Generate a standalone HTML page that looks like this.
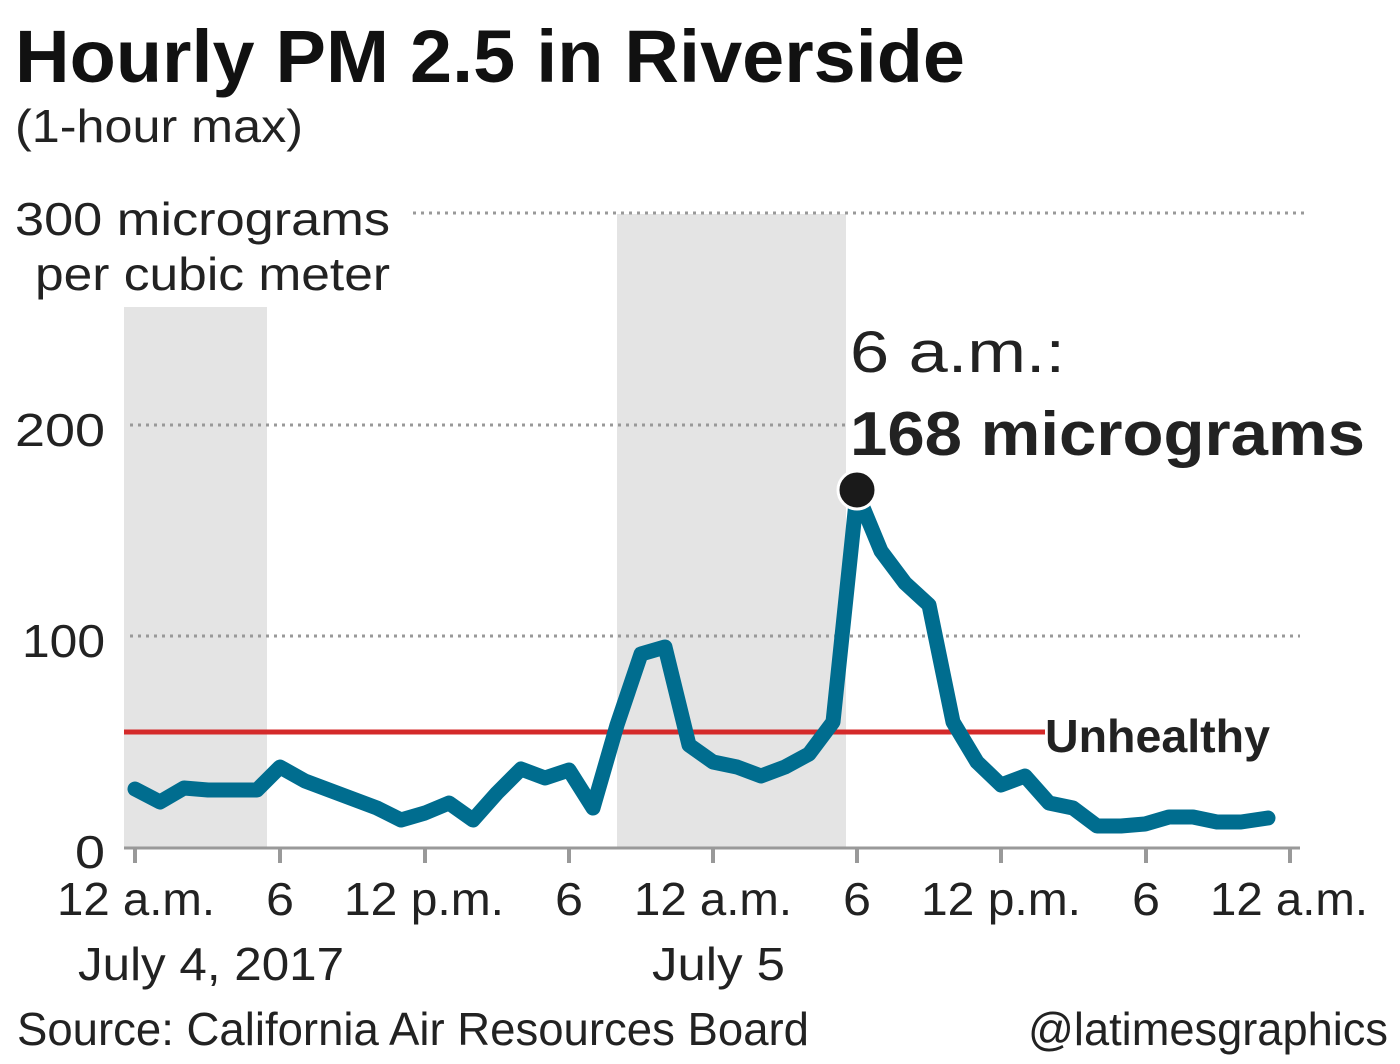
<!DOCTYPE html>
<html><head><meta charset="utf-8"><style>
html,body{margin:0;padding:0;background:#fff;}
svg{display:block;font-family:"Liberation Sans",sans-serif;}
</style></head><body>
<svg width="1400" height="1064" viewBox="0 0 1400 1064" xmlns="http://www.w3.org/2000/svg">
<rect width="1400" height="1064" fill="#fff"/>
<text x="15" y="82" font-size="74" font-weight="bold" fill="#111" textLength="950" lengthAdjust="spacingAndGlyphs">Hourly PM 2.5 in Riverside</text>
<text x="15" y="142" font-size="46" fill="#222" textLength="288" lengthAdjust="spacingAndGlyphs">(1-hour max)</text>
<rect x="124" y="307" width="143" height="541" fill="#e4e4e4"/>
<rect x="617" y="214" width="229" height="634" fill="#e4e4e4"/>
<g stroke="#999" stroke-width="3" stroke-dasharray="3,5">
<line x1="413" y1="213" x2="1305" y2="213"/>
<line x1="130" y1="425" x2="845" y2="425"/>
<line x1="130" y1="636" x2="1300" y2="636"/>
</g>
<g font-size="46" fill="#222">
<text x="15" y="235" textLength="375" lengthAdjust="spacingAndGlyphs">300 micrograms</text>
<text x="35" y="290" textLength="355" lengthAdjust="spacingAndGlyphs">per cubic meter</text>
<text x="15" y="446" textLength="90" lengthAdjust="spacingAndGlyphs">200</text>
<text x="22" y="657" textLength="83" lengthAdjust="spacingAndGlyphs">100</text>
<text x="75" y="868" textLength="30" lengthAdjust="spacingAndGlyphs">0</text>
</g>
<line x1="124" y1="848" x2="1300" y2="848" stroke="#999" stroke-width="3"/>
<g stroke="#999" stroke-width="4">
<line x1="135" y1="848" x2="135" y2="863"/><line x1="280" y1="848" x2="280" y2="863"/>
<line x1="425" y1="848" x2="425" y2="863"/><line x1="569" y1="848" x2="569" y2="863"/>
<line x1="713" y1="848" x2="713" y2="863"/><line x1="857" y1="848" x2="857" y2="863"/>
<line x1="1001" y1="848" x2="1001" y2="863"/><line x1="1146" y1="848" x2="1146" y2="863"/>
<line x1="1290" y1="848" x2="1290" y2="863"/>
</g>
<line x1="124" y1="732" x2="1045" y2="732" stroke="#d42a2a" stroke-width="5"/>
<polyline fill="none" stroke="#006d8f" stroke-width="15" stroke-linejoin="round" stroke-linecap="round" points="135,789 160,802 184,788 208,790 232,790 257,790 280,767 305,781 329,790 353,799 377,808 401,820 425,813 449,803 473,820 497,793 521,769 545,778 569,770 593,808 617,725 641,654 665,647 689,745 713,762 737,767 761,776 785,767 809,754 833,722 857,493 881,551 905,583 929,605 953,722 977,762 1001,785 1025,776 1049,803 1073,808 1097,826 1121,826 1145,824 1169,817 1193,817 1217,822 1241,822 1268,818"/>
<circle cx="857" cy="490" r="19" fill="#1a1a1a" stroke="#fff" stroke-width="3"/>
<text x="850" y="372" font-size="58" fill="#222" textLength="215" lengthAdjust="spacingAndGlyphs">6 a.m.:</text>
<text x="850" y="455" font-size="62" font-weight="bold" fill="#222" textLength="515" lengthAdjust="spacingAndGlyphs">168 micrograms</text>
<text x="1045" y="752" font-size="46" font-weight="bold" fill="#222" textLength="225" lengthAdjust="spacingAndGlyphs">Unhealthy</text>
<g font-size="46" fill="#222">
<text x="57" y="915" textLength="158" lengthAdjust="spacingAndGlyphs">12 a.m.</text>
<text x="266" y="915" textLength="28" lengthAdjust="spacingAndGlyphs">6</text>
<text x="344" y="915" textLength="160" lengthAdjust="spacingAndGlyphs">12 p.m.</text>
<text x="555" y="915" textLength="28" lengthAdjust="spacingAndGlyphs">6</text>
<text x="634" y="915" textLength="158" lengthAdjust="spacingAndGlyphs">12 a.m.</text>
<text x="843" y="915" textLength="28" lengthAdjust="spacingAndGlyphs">6</text>
<text x="921" y="915" textLength="160" lengthAdjust="spacingAndGlyphs">12 p.m.</text>
<text x="1132" y="915" textLength="28" lengthAdjust="spacingAndGlyphs">6</text>
<text x="1210" y="915" textLength="158" lengthAdjust="spacingAndGlyphs">12 a.m.</text>
<text x="78" y="980" textLength="266" lengthAdjust="spacingAndGlyphs">July 4, 2017</text>
<text x="652" y="980" textLength="133" lengthAdjust="spacingAndGlyphs">July 5</text>
<text x="17" y="1045" textLength="792" lengthAdjust="spacingAndGlyphs">Source: California Air Resources Board</text>
<text x="1028" y="1045" textLength="360" lengthAdjust="spacingAndGlyphs">@latimesgraphics</text>
</g>
</svg>
</body></html>
